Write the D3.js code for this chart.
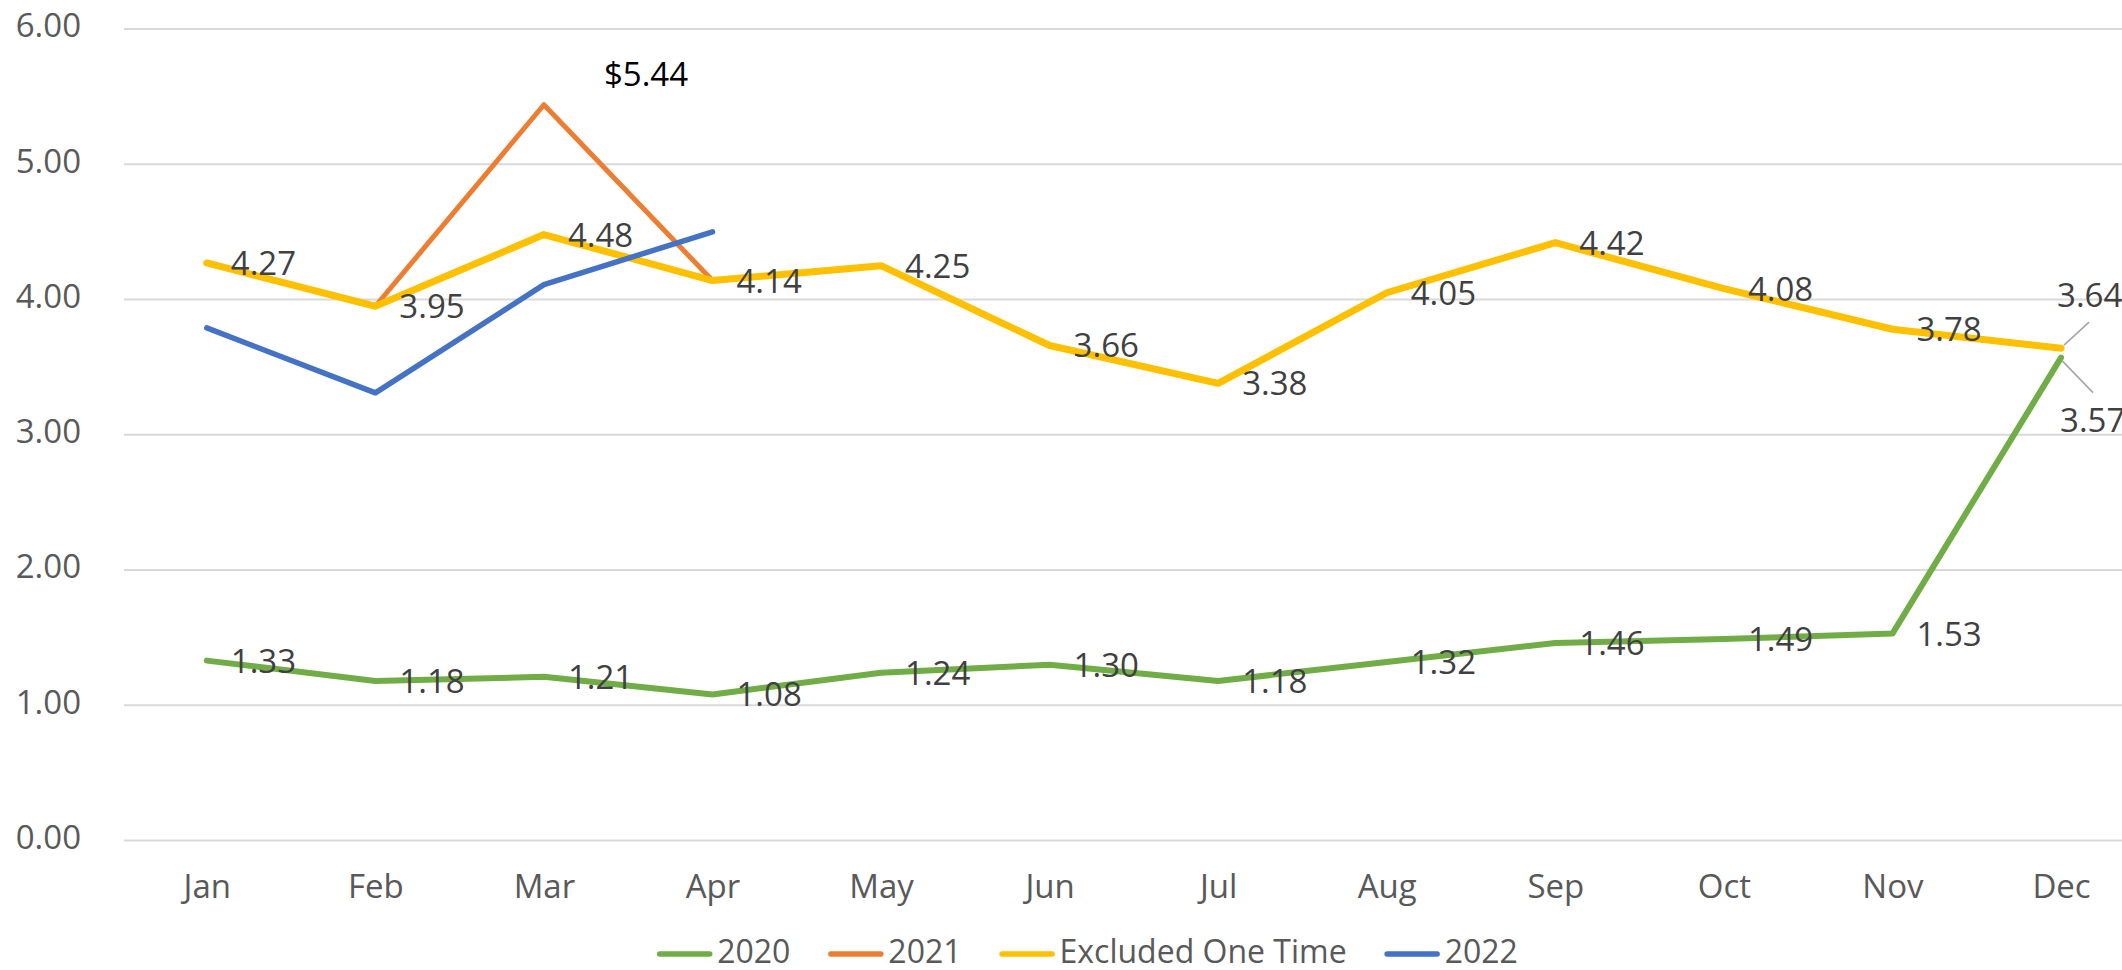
<!DOCTYPE html>
<html>
<head>
<meta charset="utf-8">
<script src="https://cdn.jsdelivr.net/npm/d3@7"></script>
<style>
body { margin: 0; background: #fff; }
text { font-family: "Open Sans", sans-serif; }
</style>
</head>
<body>
<svg id="chart" width="2122" height="970"></svg>
<script>
// chart values
var months = ["Jan", "Feb", "Mar", "Apr", "May", "Jun", "Jul", "Aug", "Sep", "Oct", "Nov", "Dec"];
var yTicks = [0, 1, 2, 3, 4, 5, 6];
var v2020 = [1.33, 1.18, 1.21, 1.08, 1.24, 1.30, 1.18, 1.32, 1.46, 1.49, 1.53, 3.57];
var v2021 = [null, 3.95, 5.44, 4.14, null, null, null, null, null, null, null, null];
var vExcluded = [4.27, 3.95, 4.48, 4.14, 4.25, 3.66, 3.38, 4.05, 4.42, 4.08, 3.78, 3.64];
var v2022 = [3.79, 3.31, 4.11, 4.50, null, null, null, null, null, null, null, null];
var seriesNames = ["2020", "2021", "Excluded One Time", "2022"];

var series = [
	{name: seriesNames[0], values: v2020, color: "#70AD47", width: 6, labels: true},
	{name: seriesNames[1], values: v2021, color: "#ED7D31", width: 5, labels: false},
	{name: seriesNames[2], values: vExcluded, color: "#FFC000", width: 7, labels: true},
	{name: seriesNames[3], values: v2022, color: "#4472C4", width: 5.5, labels: false}
];

var svg = d3.select("#chart");

var xScale = d3.scalePoint().domain(months).range([122.5, 2145.3]).padding(0.5);
var yScale = d3.scaleLinear().domain([0, 6]).range([840.5, 29]);

// gridlines
svg.append("g")
   .selectAll("line")
   .data(yTicks)
   .enter()
   .append("line")
   .attr("x1", 124)
   .attr("x2", 2122)
   .attr("y1", function(d){ return yScale(d); })
   .attr("y2", function(d){ return yScale(d); })
   .attr("stroke", "#D9D9D9")
   .attr("stroke-width", 2);

// y axis (labels only)
var yAxis = d3.axisLeft(yScale)
			  .tickValues(yTicks)
			  .tickFormat(d3.format(".2f"))
			  .tickSize(0)
			  .tickPadding(0);
var gy = svg.append("g")
			.attr("transform", "translate(81,0)")
			.call(yAxis);
gy.select(".domain").remove();
gy.selectAll("text")
  .attr("font-size", 33)
  .attr("font-family", "Open Sans, sans-serif")
  .attr("fill", "#595959")
  .attr("dy", "0.24em");

// x axis (labels only)
var xAxis = d3.axisBottom(xScale).tickSize(0).tickPadding(0);
var gx = svg.append("g")
			.attr("transform", "translate(0,898)")
			.call(xAxis);
gx.select(".domain").remove();
gx.selectAll("text")
  .attr("font-size", 33)
  .attr("font-family", "Open Sans, sans-serif")
  .attr("fill", "#595959")
  .attr("dy", 0);

// lines
var line = d3.line()
			 .defined(function(d){ return d != null; })
			 .x(function(d, i){ return xScale(months[i]); })
			 .y(function(d){ return yScale(d); });

svg.append("g")
   .selectAll("path")
   .data(series)
   .enter()
   .append("path")
   .attr("d", function(s){ return line(s.values); })
   .attr("fill", "none")
   .attr("stroke", function(s){ return s.color; })
   .attr("stroke-width", function(s){ return s.width; })
   .attr("stroke-linejoin", "round")
   .attr("stroke-linecap", "round");

// data labels, placed to the right of each point
var labelData = [];
series.forEach(function(s){
	if (!s.labels) return;
	s.values.forEach(function(v, i){
		if (v == null) return;
		labelData.push({series: s.name, i: i, v: v, dx: 24, dy: 12, leader: null});
	});
});
// manual placements in Dec
labelData.forEach(function(d){
	if (d.i == 11 && d.series == "Excluded One Time") { d.dx = -4; d.dy = -41; d.leader = [3, -3, 28, -26]; }
	if (d.i == 11 && d.series == "2020") { d.dx = -1; d.dy = 74; d.leader = [1, 3, 32, 35]; }
});

var gl = svg.append("g");
gl.selectAll("line")
  .data(labelData.filter(function(d){ return d.leader; }))
  .enter()
  .append("line")
  .attr("x1", function(d){ return xScale(months[d.i]) + d.leader[0]; })
  .attr("y1", function(d){ return yScale(d.v) + d.leader[1]; })
  .attr("x2", function(d){ return xScale(months[d.i]) + d.leader[2]; })
  .attr("y2", function(d){ return yScale(d.v) + d.leader[3]; })
  .attr("stroke", "#A6A6A6")
  .attr("stroke-width", 1.6);

gl.selectAll("text")
  .data(labelData)
  .enter()
  .append("text")
  .attr("x", function(d){ return xScale(months[d.i]) + d.dx; })
  .attr("y", function(d){ return yScale(d.v) + d.dy; })
  .attr("font-size", 33)
  .attr("fill", "#404040")
  .text(function(d){ return d3.format(".2f")(d.v); });

// 2021 peak label
svg.append("text")
   .attr("x", xScale("Mar") + 60)
   .attr("y", yScale(v2021[2]) - 19)
   .attr("font-size", 33)
   .attr("fill", "#000")
   .text("$" + d3.format(".2f")(v2021[2]));

// legend
var legend = svg.append("g");
var lx = 0;
series.forEach(function(s){
	var item = legend.append("g").attr("transform", "translate(" + lx + ",0)");
	item.append("line")
		.attr("x1", 2.5).attr("x2", 52.5)
		.attr("y1", -9).attr("y2", -9)
		.attr("stroke", s.color)
		.attr("stroke-width", 5.5)
		.attr("stroke-linecap", "round");
	var t = item.append("text")
		.attr("x", 60)
		.attr("y", 0)
		.attr("font-size", 32)
		.attr("fill", "#595959")
		.text(s.name);
	lx += 60 + t.node().getComputedTextLength() + 38;
});
var legendW = lx - 38;
legend.attr("transform", "translate(" + (1087.5 - legendW / 2) + ",963)");
</script>
</body>
</html>
